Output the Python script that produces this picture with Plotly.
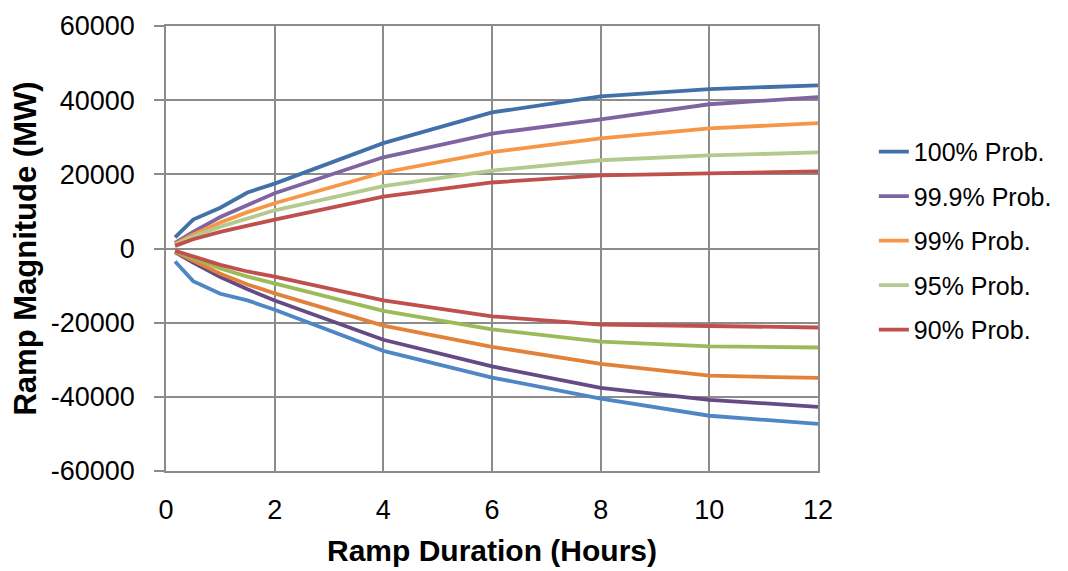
import plotly.graph_objects as go

hours = [0.167, 0.5, 1, 1.5, 2, 4, 6, 8, 10, 12]

names = ["100% Prob.", "99.9% Prob.", "99% Prob.", "95% Prob.", "90% Prob."]

up_100 = [3000, 7800, 11000, 15100, 17500, 28400, 36700, 41000, 43000, 44000]
up_999 = [1500, 4500, 8500, 11800, 14900, 24600, 31000, 34800, 38900, 40800]
up_99 = [1200, 3800, 7000, 9800, 12200, 20500, 26000, 29700, 32400, 33800]
up_95 = [1000, 3200, 5900, 8200, 10300, 16800, 21000, 23800, 25100, 25900]
up_90 = [700, 2500, 4500, 6200, 7800, 14000, 17800, 19700, 20300, 20800]

dn_100 = [-3500, -8800, -12200, -14000, -16500, -27600, -34800, -40500, -45100, -47300]
dn_999 = [-1000, -3800, -7700, -11000, -14000, -24600, -31800, -37600, -40800, -42700]
dn_99 = [-900, -3300, -6800, -9700, -12100, -20800, -26500, -31100, -34300, -34900]
dn_95 = [-700, -2600, -5400, -7600, -9400, -16800, -21800, -25100, -26400, -26700]
dn_90 = [-600, -2200, -4400, -6200, -7600, -14000, -18300, -20500, -21000, -21300]

x_ticks = [0, 2, 4, 6, 8, 10, 12]
y_ticks = [-60000, -40000, -20000, 0, 20000, 40000, 60000]
y_ticktext = ["-60000", "-40000", "-20000", "0", "20000", "40000", "60000"]

up_series = [up_100, up_999, up_99, up_95, up_90]
dn_series = [dn_100, dn_999, dn_99, dn_95, dn_90]
up_colors = ["#4270A8", "#8064A2", "#F79646", "#B3C98E", "#C0504D"]
dn_colors = ["#4F86C6", "#654A86", "#E2823A", "#9BBB59", "#C0504D"]

fig = go.Figure()
for i, (name, ys, c) in enumerate(zip(names, up_series, up_colors)):
    fig.add_trace(go.Scatter(x=hours, y=ys, mode="lines", name=name,
                             legendgroup=f"g{i}",
                             line=dict(color=c, width=3.8)))
for i, (name, ys, c) in enumerate(zip(names, dn_series, dn_colors)):
    fig.add_trace(go.Scatter(x=hours, y=ys, mode="lines", name=name,
                             legendgroup=f"g{i}",
                             showlegend=False, line=dict(color=c, width=3.8)))

font = "Liberation Sans, Arial, sans-serif"
grid = "#8C8C8C"
fig.update_layout(
    width=1060, height=563,
    margin=dict(l=158, r=249, t=18, b=100),
    paper_bgcolor="white", plot_bgcolor="white",
    font=dict(family=font, size=27, color="black"),
    legend=dict(x=1.084, y=0.517, xanchor="left", yanchor="middle",
                font=dict(size=25), tracegroupgap=9, itemwidth=30),
    xaxis=dict(range=[0, 12], tickvals=x_ticks, automargin=False,
               showgrid=True, gridcolor=grid, gridwidth=1.5,
               showline=True, linecolor=grid, linewidth=1.5, mirror=True,
               ticks="", zeroline=False, ticklabelstandoff=14,
               title=dict(text="<b>Ramp Duration (Hours)</b>", font=dict(size=30), standoff=16)),
    yaxis=dict(range=[-60000, 60000], tickvals=y_ticks, ticktext=y_ticktext,
               automargin=False,
               showgrid=True, gridcolor=grid, gridwidth=1.5,
               showline=True, linecolor=grid, linewidth=1.5, mirror=True,
               ticks="outside", ticklen=10, tickcolor=grid, tickwidth=1.5,
               zeroline=False, ticklabelstandoff=14,
               title=dict(text="<b>Ramp Magnitude (MW)</b>", font=dict(size=31), standoff=6)),
)

fig.write_html("out.html")
